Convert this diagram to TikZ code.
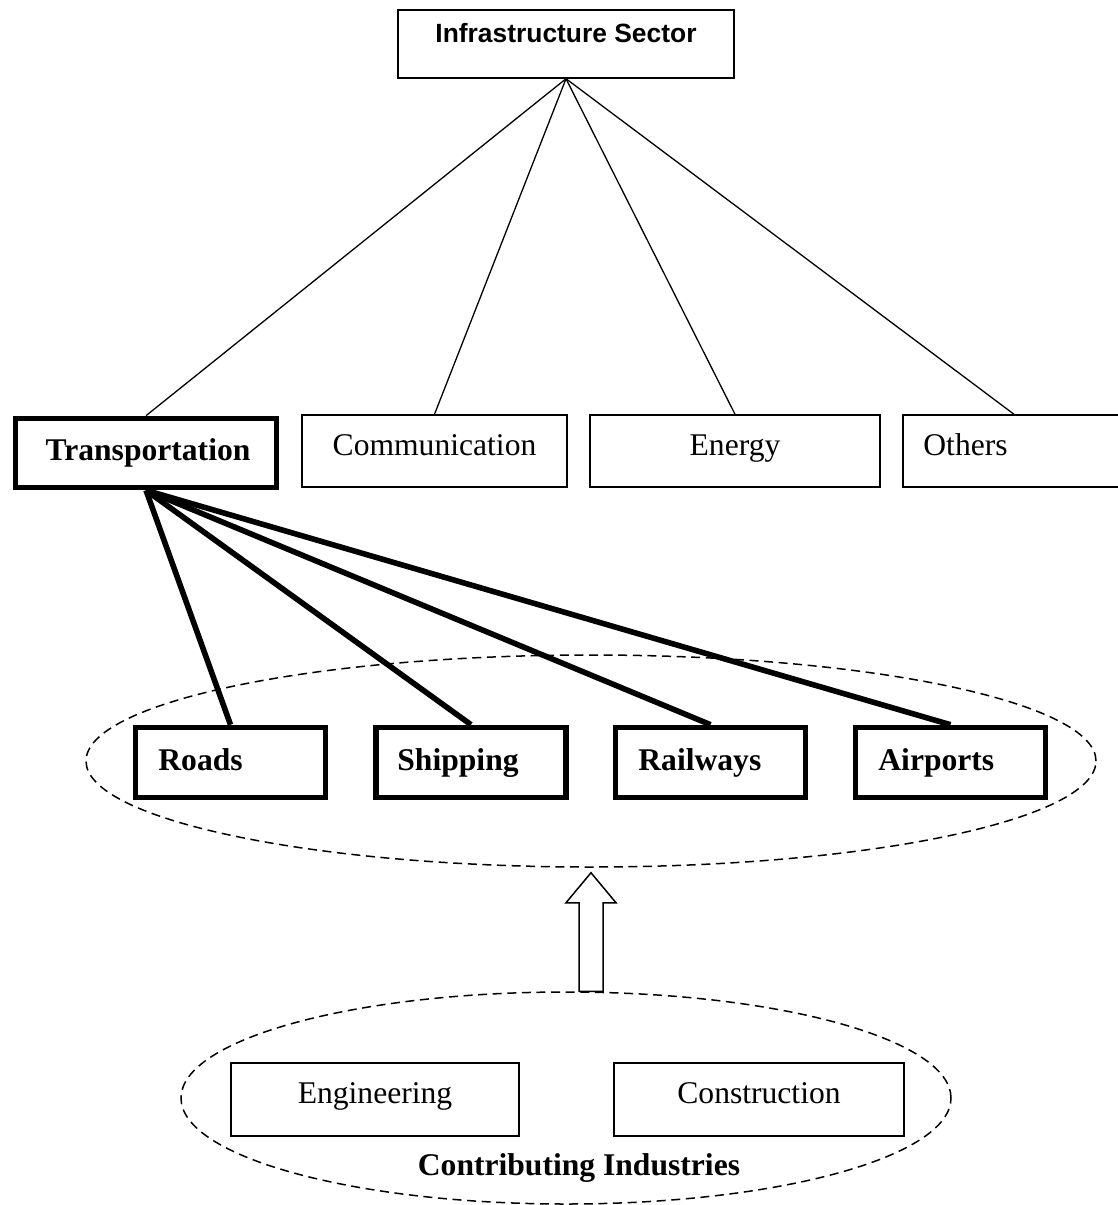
\documentclass[tikz,border=0pt]{standalone}
\usepackage{fontspec}
\setmainfont{Liberation Serif}
\newfontfamily\hdfont{Liberation Sans}
\usetikzlibrary{shapes.geometric,calc}
\begin{document}
\begin{tikzpicture}[x=0.5pt,y=-0.5pt,
  thinbox/.style={draw, rectangle, line width=0.75pt, inner sep=0pt},
  thickbox/.style={draw, rectangle, line width=2.8pt, inner sep=0pt, minimum width=95pt, minimum height=35pt},
  thinline/.style={line width=0.65pt},
  thickline/.style={line width=2.8pt},
  group/.style={draw, dashed, dash pattern=on 4.5pt off 2.8pt, ellipse, line width=0.75pt, inner sep=0pt},
  lbl/.style={font=\fontsize{15.8pt}{19pt}\selectfont, inner sep=0pt},
  blbl/.style={font=\fontsize{15.8pt}{19pt}\selectfont\bfseries, inner sep=0pt},
  hlbl/.style={font=\fontsize{13.2pt}{16pt}\selectfont\hdfont\bfseries, inner sep=0pt}
]
\useasboundingbox (0,0) rectangle (1118,1205);

% top
\node[thinbox, minimum width=168pt, minimum height=34pt] (infra) at (566,44) {};
\node[hlbl, anchor=base] (infraT) at (566,42) {Infrastructure Sector};

% second row
\node[thickbox, minimum width=130.5pt, minimum height=34.5pt] (trans) at (146,453) {};
\node[blbl, anchor=base] (transT) at (148,460) {Transportation};
\node[thinbox, minimum width=132.5pt, minimum height=36pt] (comm) at (434.5,451) {};
\node[lbl, anchor=base] (commT) at (434.5,455) {Communication};
\node[thinbox, minimum width=145pt, minimum height=36pt] (energy) at (735,451) {};
\node[lbl, anchor=base] (energyT) at (735,455) {Energy};
\node[thinbox, minimum width=111pt, minimum height=36pt] (others) at (1014,451) {};
\node[lbl, anchor=base west] (othersT) at (923,455) {Others};

\draw[thinline] (infra.south) -- (trans.north);
\draw[thinline] (infra.south) -- (comm.north);
\draw[thinline] (infra.south) -- (energy.north);
\draw[thinline] (infra.south) -- (others.north);

% group 1
\node[group, minimum width=505pt, minimum height=106pt] (grp1) at (591,761) {};
\node[thickbox] (roads) at (230.5,762.5) {};
\node[blbl, anchor=base west] (roadsT) at (158,770) {Roads};
\node[thickbox] (ship) at (471,762.5) {};
\node[blbl, anchor=base west] (shipT) at (397,770) {Shipping};
\node[thickbox] (rail) at (710.5,762.5) {};
\node[blbl, anchor=base west] (railT) at (638,770) {Railways};
\node[thickbox] (air) at (950.5,762.5) {};
\node[blbl, anchor=base west] (airT) at (878,770) {Airports};

\draw[thickline] (trans.south) -- (roads.north);
\draw[thickline] (trans.south) -- (ship.north);
\draw[thickline] (trans.south) -- (rail.north);
\draw[thickline] (trans.south) -- (air.north);

% group 2
\node[group, minimum width=385pt, minimum height=106pt] (grp2) at (566,1098) {};
\node[thinbox, minimum width=144pt, minimum height=36.5pt] (eng) at (375,1099.5) {};
\node[lbl, anchor=base] (engT) at (375,1103) {Engineering};
\node[thinbox, minimum width=145pt, minimum height=36.5pt] (cons) at (759,1099.5) {};
\node[lbl, anchor=base] (consT) at (759,1103) {Construction};
\node[blbl, anchor=base] (contribT) at (579,1175) {Contributing Industries};

% block arrow
\coordinate (atip) at ($(grp1.south)+(0,5)$);
\coordinate (abase) at (grp2.north -| atip);
\draw[line width=0.75pt, fill=white]
  ($(abase)+(-12,0)$) -- ($(atip)+(-12,30)$) -- ($(atip)+(-25,30)$) -- (atip)
  -- ($(atip)+(25,30)$) -- ($(atip)+(12,30)$) -- ($(abase)+(12,0)$) -- cycle;
\end{tikzpicture}
\end{document}
